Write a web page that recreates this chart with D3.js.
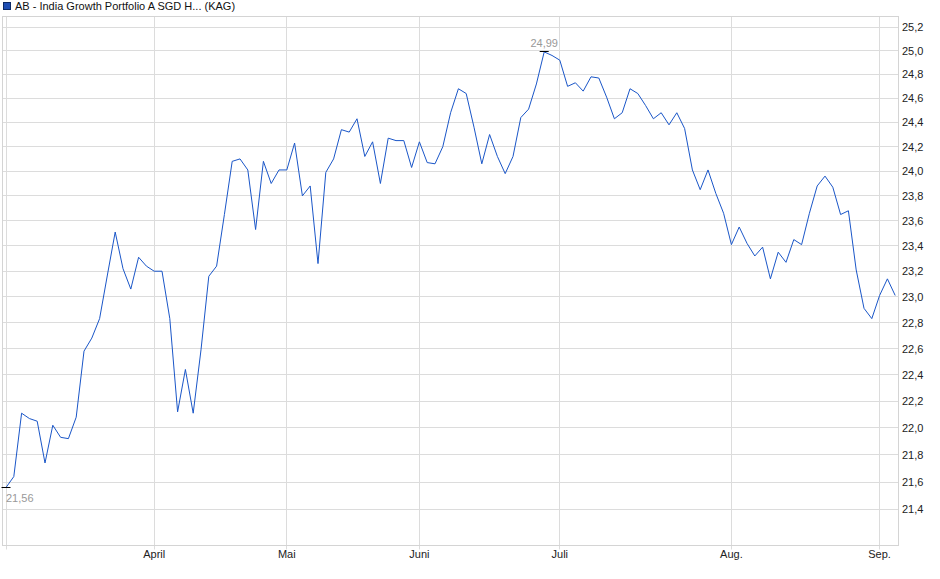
<!DOCTYPE html>
<html>
<head>
<meta charset="utf-8">
<script src="https://cdn.jsdelivr.net/npm/d3@7"></script>
<style>
  body { margin: 0; background: #fff; }
  svg text { font-family: "Liberation Sans", Arial, sans-serif; }
</style>
</head>
<body>
<svg id="chart"></svg>
<script>
// fund price, one value per trading day (Mar - Sep)
const prices = [
  21.56, 21.64, 22.11, 22.07, 22.05, 21.74, 22.02, 21.93, 21.92, 22.08,
  22.58, 22.68, 22.83, 23.17, 23.51, 23.22, 23.06, 23.31, 23.24, 23.20,
  23.20, 22.83, 22.12, 22.44, 22.11, 22.59, 23.16, 23.24, 23.65, 24.08,
  24.10, 24.01, 23.53, 24.08, 23.90, 24.01, 24.01, 24.23, 23.80, 23.88,
  23.26, 23.99, 24.10, 24.34, 24.32, 24.43, 24.12, 24.24, 23.90, 24.27,
  24.25, 24.25, 24.03, 24.24, 24.07, 24.06, 24.20, 24.48, 24.68, 24.64,
  24.36, 24.06, 24.30, 24.12, 23.98, 24.12, 24.44, 24.51, 24.72, 24.99,
  24.96, 24.92, 24.70, 24.73, 24.66, 24.78, 24.77, 24.61, 24.43, 24.48,
  24.68, 24.64, 24.54, 24.43, 24.48, 24.38, 24.48, 24.35, 24.01, 23.85,
  24.01, 23.82, 23.66, 23.41, 23.55, 23.42, 23.32, 23.39, 23.14, 23.35,
  23.27, 23.45, 23.41, 23.66, 23.88, 23.96, 23.87, 23.65, 23.68, 23.21,
  22.91, 22.83, 23.01, 23.14, 23.01
];

// first trading day of each month (index into prices) and its label
const monthIdx = [0, 19, 36, 53, 71, 93, 112];
const monthLabels = ["", "April", "Mai", "Juni", "Juli", "Aug.", "Sep."];

const yTicks = [21.4, 21.6, 21.8, 22.0, 22.2, 22.4, 22.6, 22.8, 23.0, 23.2,
  23.4, 23.6, 23.8, 24.0, 24.2, 24.4, 24.6, 24.8, 25.0, 25.2];

const seriesName = "AB - India Growth Portfolio A SGD H... (KAG)";

const width = 940, height = 579;
const plot = { left: 2.5, right: 898.5, top: 16.5, bottom: 545.5 };

const svg = d3.select("#chart")
  .attr("width", width)
  .attr("height", height);

// scales - price axis is logarithmic
const x = d3.scaleLinear()
  .domain([0, prices.length - 1])
  .range([6, 6 + (prices.length - 1) * 7.8]);

const y = d3.scaleLog()
  .domain([21.139, 25.296])
  .range([545.7, 16]);

const crisp = v => Math.round(v - 0.5) + 0.5;
const fmt = v => d3.format(".1f")(v).replace(".", ",");

// horizontal gridlines + right labels
svg.append("g").selectAll("line")
  .data(yTicks)
  .join("line")
    .attr("x1", plot.left)
    .attr("x2", plot.right)
    .attr("y1", d => crisp(y(d)))
    .attr("y2", d => crisp(y(d)))
    .attr("stroke", "#dcdcdc")
    .attr("stroke-width", 1);

svg.append("g").selectAll("text")
  .data(yTicks)
  .join("text")
    .attr("x", 902)
    .attr("y", d => y(d) + 4)
    .attr("font-size", "11px")
    .attr("fill", "#222")
    .text(fmt);

// vertical month gridlines with small ticks below the frame
svg.append("g").selectAll("line")
  .data(monthIdx)
  .join("line")
    .attr("x1", d => crisp(x(d)))
    .attr("x2", d => crisp(x(d)))
    .attr("y1", plot.top)
    .attr("y2", plot.bottom + 4)
    .attr("stroke", "#dcdcdc")
    .attr("stroke-width", 1);

svg.append("g").selectAll("text")
  .data(monthIdx)
  .join("text")
    .attr("x", d => x(d))
    .attr("y", 558)
    .attr("text-anchor", "middle")
    .attr("font-size", "11px")
    .attr("fill", "#222")
    .text((d, i) => monthLabels[i]);

// plot frame
svg.append("rect")
  .attr("x", plot.left)
  .attr("y", plot.top)
  .attr("width", plot.right - plot.left)
  .attr("height", plot.bottom - plot.top)
  .attr("fill", "none")
  .attr("stroke", "#d4d4d4")
  .attr("stroke-width", 1);

// price line
const line = d3.line()
  .x((d, i) => x(i))
  .y(d => y(d));

svg.append("path")
  .datum(prices)
  .attr("fill", "none")
  .attr("stroke", "#1a56c8")
  .attr("stroke-width", 1)
  .attr("stroke-linejoin", "miter")
  .attr("d", line);

// min / max markers
const iMin = d3.minIndex(prices), iMax = d3.maxIndex(prices);
[iMin, iMax].forEach(i => {
  svg.append("line")
    .attr("x1", x(i) - 4.5)
    .attr("x2", x(i) + 4.5)
    .attr("y1", crisp(y(prices[i])))
    .attr("y2", crisp(y(prices[i])))
    .attr("stroke", "#000")
    .attr("stroke-width", 1);
});

svg.append("text")
  .attr("x", x(iMin))
  .attr("y", y(prices[iMin]) + 14)
  .attr("font-size", "11px")
  .attr("fill", "#999")
  .text(d3.format(".2f")(prices[iMin]).replace(".", ","));

svg.append("text")
  .attr("x", x(iMax))
  .attr("y", y(prices[iMax]) - 5)
  .attr("text-anchor", "middle")
  .attr("font-size", "11px")
  .attr("fill", "#999")
  .text(d3.format(".2f")(prices[iMax]).replace(".", ","));

// legend
svg.append("rect")
  .attr("x", 3.5)
  .attr("y", 2.5)
  .attr("width", 7)
  .attr("height", 7)
  .attr("fill", "#1f4fb4")
  .attr("stroke", "#0d2a66")
  .attr("stroke-width", 1);

svg.append("text")
  .attr("x", 15)
  .attr("y", 10)
  .attr("font-size", "11px")
  .attr("fill", "#111")
  .text(seriesName);
</script>
</body>
</html>
